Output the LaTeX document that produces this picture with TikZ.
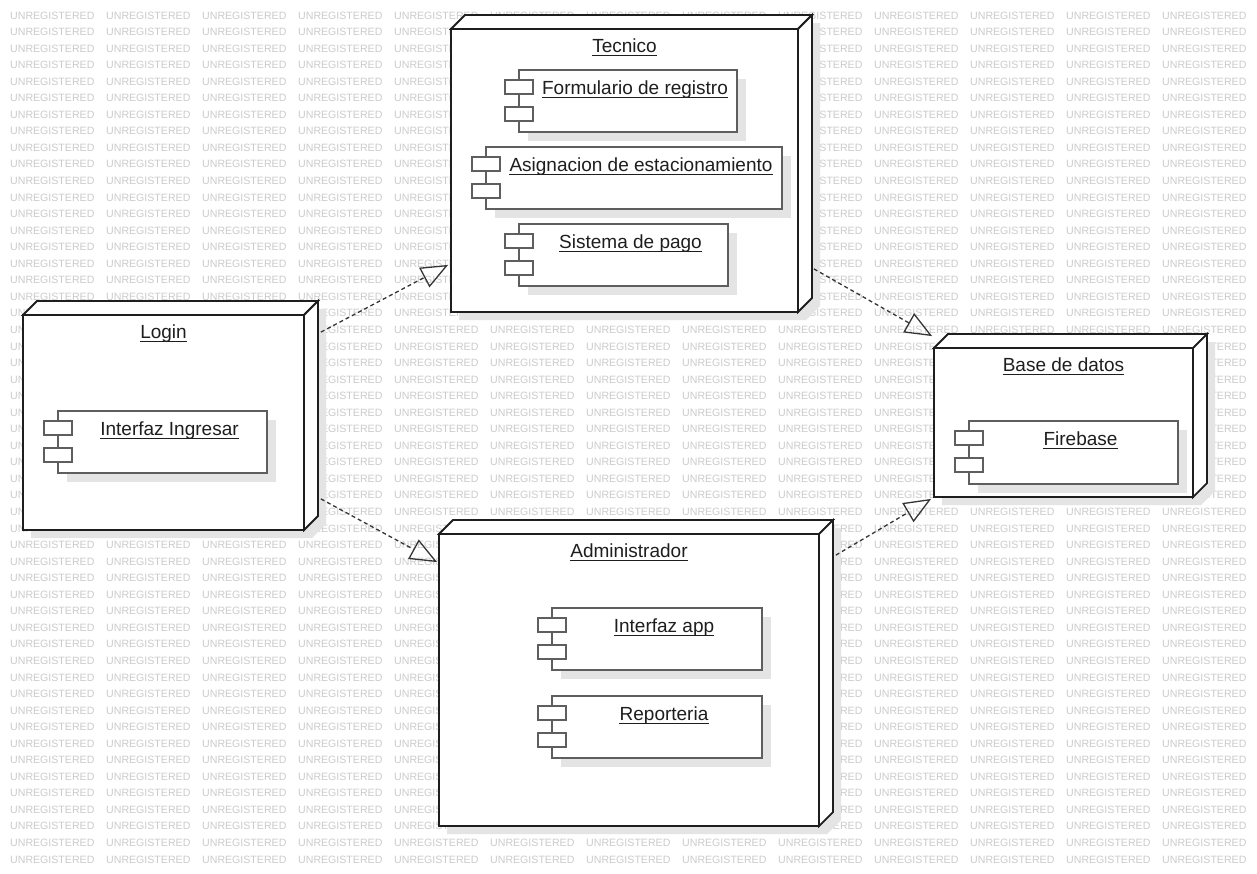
\documentclass[tikz,border=0pt]{standalone}
\usepackage{fontspec}
\setmainfont{Liberation Sans}
\usetikzlibrary{arrows.meta,calc,fit}

\definecolor{ink}{HTML}{1E1E1E}
\definecolor{compline}{HTML}{5E5E5E}
\definecolor{shadowgray}{HTML}{E4E4E4}
\definecolor{marktext}{HTML}{CBCBCB}

\tikzset{
  wmark/.style={anchor=base west, inner sep=0pt, text=marktext,
    font=\fontsize{10.6}{12}\selectfont},
  face/.style={fill=white, draw=ink, line width=1.8pt, line join=miter},
  devfront/.style={face, inner sep=0pt},
  devshadow/.style={fill=shadowgray},
  compbody/.style={fill=white, draw=compline, line width=1.4pt, inner sep=0pt},
  comptab/.style={compbody},
  ttl/.style={anchor=base, inner sep=0pt, text=ink,
    font=\fontsize{19}{23}\selectfont},
  ulline/.style={draw=ink, line width=1.4pt},
  realize/.style={draw=ink!90, line width=1.3pt, dash pattern=on 4pt off 3pt,
    -{Triangle[open, length=27pt, width=22pt, line width=1.3pt]}},
}

% 3D deployment node: name, x1, y1, x2, y2 (front face), title
\newcommand{\device}[6]{%
  \fill[devshadow] ({#2+8},{#3+8}) -- ({#2+22},{#3-6}) -- ({#4+22},{#3-6})
    -- ({#4+22},{#5-6}) -- ({#4+8},{#5+8}) -- ({#2+8},{#5+8}) -- cycle;
  \draw[face] (#2,#3) -- ({#2+14},{#3-14}) -- ({#4+14},{#3-14}) -- (#4,#3) -- cycle;
  \draw[face] (#4,#3) -- ({#4+14},{#3-14}) -- ({#4+14},{#5-14}) -- (#4,#5) -- cycle;
  \node[devfront, fit={(#2,#3) (#4,#5)}] (#1) {};
  \node[ttl] (#1-title) at ($(#1.north)+(0,24)$) {#6};
  \draw[ulline] ($(#1-title.base west)+(0,3.3)$) -- ($(#1-title.base east)+(0,3.3)$);
}

% UML component: name, x1, y1, x2, y2 (body), label
\newcommand{\component}[6]{%
  \fill[devshadow] ({#2+9},{#3+9}) rectangle ({#4+9},{#5+9});
  \node[compbody, fit={(#2,#3) (#4,#5)}] (#1) {};
  \node[comptab, fit={({#2-14},{#3+10}) ({#2+14},{#3+24})}] (#1-tab1) {};
  \node[comptab, fit={({#2-14},{#3+37}) ({#2+14},{#3+51})}] (#1-tab2) {};
  \node[ttl] (#1-label) at ({(#2+14+#4)/2},{#3+24}) {#6};
  \draw[ulline] ($(#1-label.base west)+(0,3.3)$) -- ($(#1-label.base east)+(0,3.3)$);
}

\begin{document}
\begin{tikzpicture}[x=1pt, y=-1pt]
  \useasboundingbox (0,0) rectangle (1257,873);
  \fill[white] (0,0) rectangle (1257,873);

  % evaluation watermark in the background
  \begin{scope}
    \clip (0,0) rectangle (1257,873);
    \foreach \r in {1,...,52} {
      \foreach \c in {0,...,12} {
        \node[wmark] (wm-\r-\c) at ({10+96*\c},{19+16.55*(\r-1)}) {UNREGISTERED};
      }
    }
  \end{scope}

  % nodes
  \device{tec}{451}{29}{798}{312}{Tecnico}
  \device{login}{23}{315}{304}{530}{Login}
  \device{db}{934}{348}{1193}{497}{Base de datos}
  \device{admin}{439}{534}{819}{826}{Administrador}

  % components
  \component{formreg}{519}{70}{737}{132}{Formulario de registro}
  \component{asign}{486}{147}{782}{209}{Asignacion de estacionamiento}
  \component{pago}{519}{224}{728}{286}{Sistema de pago}
  \component{ingresar}{58}{411}{267}{473}{Interfaz Ingresar}
  \component{firebase}{969}{421}{1178}{484}{Firebase}
  \component{app}{552}{608}{762}{670}{Interfaz app}
  \component{report}{552}{696}{762}{758}{Reporteria}

  % realization links
  \draw[realize] ($(login.north east)+(16,18)$) -- ($(tec.south west)+(-2,-48)$);
  \draw[realize] ($(login.south east)+(16,-32)$) -- ($(admin.north west)+(-1,29)$);
  \draw[realize] ($(tec.south east)+(15,-44)$) -- ($(db.north west)+(-1,-11)$);
  \draw[realize] ($(admin.north east)+(16,22)$) -- ($(db.south west)+(-2,1)$);
\end{tikzpicture}
\end{document}
